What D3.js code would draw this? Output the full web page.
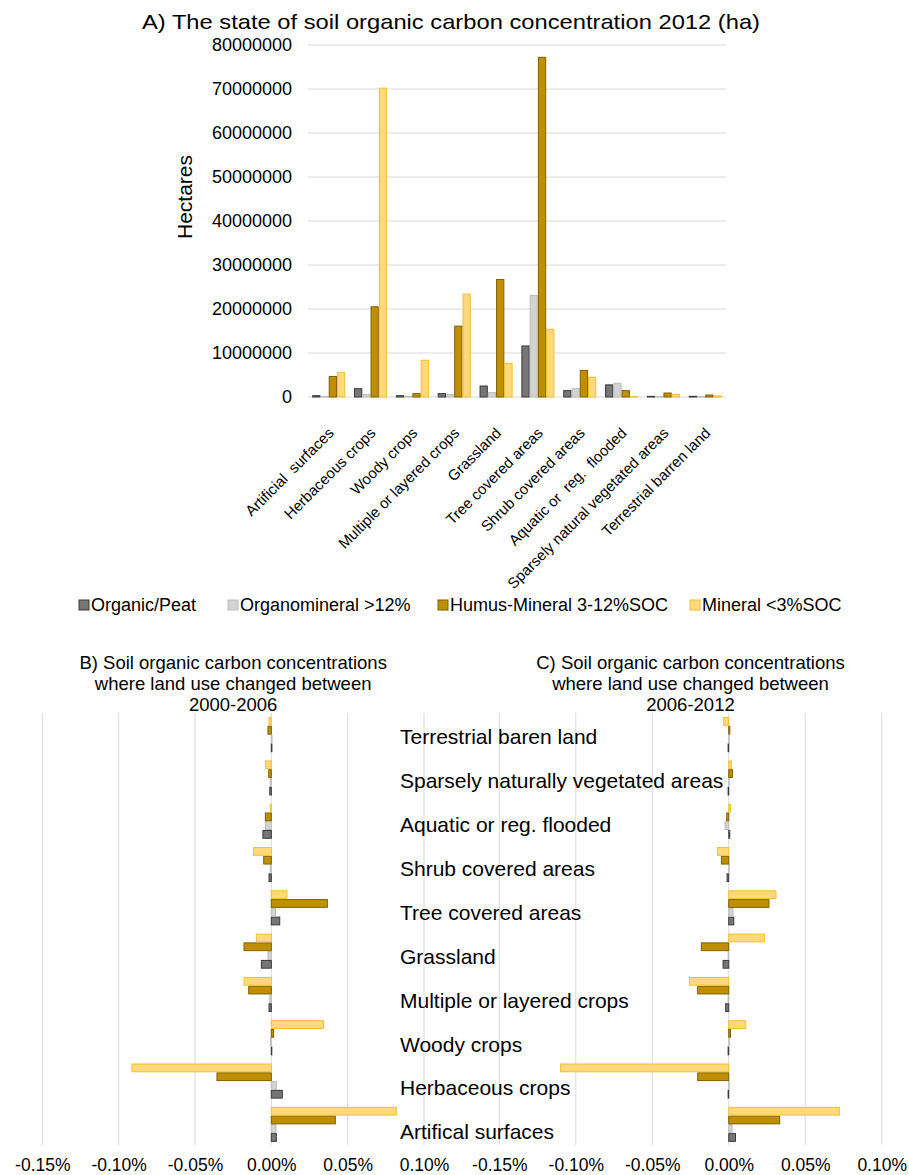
<!DOCTYPE html>
<html>
<head>
<meta charset="utf-8">
<script src="https://cdn.jsdelivr.net/npm/d3@7"></script>
<style>
  html, body { margin: 0; padding: 0; background: #fff; }
  text { font-family: "Liberation Sans", Arial, sans-serif; fill: #000; }
</style>
</head>
<body>
<svg id="chart" width="909" height="1175"></svg>
<script>
// ---------------- DATA ----------------
const seriesNames = ["Organic/Peat", "Organomineral >12%", "Humus-Mineral 3-12%SOC", "Mineral <3%SOC"];

// Chart A: hectares, 2012
const topCategories = ["Artificial  surfaces", "Herbaceous crops", "Woody crops", "Multiple or layered crops",
  "Grassland", "Tree covered areas", "Shrub covered areas", "Aquatic or  reg.  flooded",
  "Sparsely natural vegetated areas", "Terrestrial barren land"];
const topOrganic       = [300000, 1900000, 300000, 770000, 2500000, 11600000, 1450000, 2760000, 150000, 150000];
const topOrganomineral = [100000, 600000, 150000, 550000, 1000000, 23100000, 1900000, 3140000, 100000, 100000];
const topHumus         = [4670000, 20500000, 770000, 16100000, 26700000, 77200000, 6050000, 1450000, 900000, 450000];
const topMineral       = [5600000, 70200000, 8350000, 23400000, 7660000, 15400000, 4500000, 100000, 600000, 250000];
const topTicks = [0, 10000000, 20000000, 30000000, 40000000, 50000000, 60000000, 70000000, 80000000];

// Charts B and C: % change, categories listed top to bottom
const bottomCategories = ["Terrestrial baren land", "Sparsely naturally vegetated areas", "Aquatic or reg. flooded",
  "Shrub covered areas", "Tree covered areas", "Grassland", "Multiple or layered crops", "Woody crops",
  "Herbaceous crops", "Artifical surfaces"];
const bOrganic       = [0.0004, -0.0010, -0.0055, -0.0015, 0.0055, -0.0065, -0.0015, 0.0003, 0.0072, 0.0033];
const bOrganomineral = [0.0005, -0.0007, -0.0039, -0.0007, 0.0028, -0.0022, -0.0010, -0.0006, 0.0033, 0.0030];
const bHumus         = [-0.0022, -0.0017, -0.0039, -0.0050, 0.0367, -0.0179, -0.0148, 0.0015, -0.0356, 0.0419];
const bMineral       = [-0.0015, -0.0039, -0.0007, -0.0116, 0.0103, -0.0098, -0.0179, 0.0343, -0.0913, 0.0819];

const cOrganic       = [-0.0004, -0.0004, 0.0007, -0.0011, 0.0033, -0.0037, -0.0020, -0.0004, -0.0004, 0.0044];
const cOrganomineral = [0.0002, 0.0002, -0.0024, 0.0002, 0.0028, -0.0004, -0.0004, 0.0001, 0.0001, 0.0022];
const cHumus         = [0.0007, 0.0024, -0.0013, -0.0048, 0.0263, -0.0179, -0.0203, 0.0011, -0.0203, 0.0333];
const cMineral       = [-0.0033, 0.0017, 0.0011, -0.0074, 0.0309, 0.0233, -0.0257, 0.0111, -0.1100, 0.0723];
const pctTicks = [-0.15, -0.10, -0.05, 0.00, 0.05, 0.10];

// ---------------- STYLE ----------------
const fills   = ["#767676", "#d3d3d3", "#bf8f00", "#ffd97a"];
const strokes = ["#3a3a3a", "#bdbdbd", "#7f6000", "#f2c12e"];
const gridColor = "#d9d9d9";

const svg = d3.select("#chart");

// ---------------- CHART A ----------------
const A = { left: 308, right: 726, top: 45, bottom: 397 };
const xA = d3.scaleBand().domain(topCategories).range([A.left, A.right]).paddingInner(0.21).paddingOuter(0.1);
const xAs = d3.scaleBand().domain(seriesNames).range([0, xA.bandwidth()]);
const yA = d3.scaleLinear().domain([0, 80000000]).range([A.bottom, A.top]);
const topSeries = [topOrganic, topOrganomineral, topHumus, topMineral];

svg.append("text")
  .attr("x", 451).attr("y", 29)
  .attr("text-anchor", "middle")
  .attr("font-size", 21)
  .attr("textLength", 618).attr("lengthAdjust", "spacingAndGlyphs")
  .text("A) The state of soil organic carbon concentration 2012 (ha)");

const gA = svg.append("g");
gA.selectAll("line.grid").data(topTicks).join("line")
  .attr("x1", A.left).attr("x2", A.right)
  .attr("y1", d => yA(d)).attr("y2", d => yA(d))
  .attr("stroke", gridColor).attr("stroke-width", 1);

const yAxisA = d3.axisLeft(yA).tickValues(topTicks).tickSize(0).tickPadding(0).tickFormat(d3.format("d"));
svg.append("g").attr("transform", `translate(${A.left - 16},0)`).call(yAxisA)
  .call(g => g.select(".domain").remove())
  .call(g => g.selectAll("text").attr("font-size", 18).attr("font-family", "Liberation Sans").attr("fill", "#000"));

svg.append("text")
  .attr("transform", "translate(192,197) rotate(-90)")
  .attr("text-anchor", "middle")
  .attr("font-size", 21)
  .text("Hectares");

topCategories.forEach((cat, i) => {
  const g = gA.append("g").attr("transform", `translate(${xA(cat)},0)`);
  g.selectAll("rect").data(topSeries.map((s, k) => ({ k, v: s[i] }))).join("rect")
    .attr("x", d => xAs(seriesNames[d.k]) + 0.5)
    .attr("width", xAs.bandwidth() - 1)
    .attr("y", d => yA(d.v))
    .attr("height", d => Math.max(0.5, yA(0) - yA(d.v)))
    .attr("fill", d => fills[d.k])
    .attr("stroke", d => strokes[d.k]).attr("stroke-width", 1);
});

gA.selectAll("text.xlab").data(topCategories).join("text")
  .attr("class", "xlab")
  .attr("transform", d => `translate(${xA(d) + xA.bandwidth() / 2 + 6},${A.bottom + 37}) rotate(-45)`)
  .attr("text-anchor", "end")
  .attr("font-size", 15)
  .style("white-space", "pre")
  .text(d => d);

// Legend
const legendX = [79, 228, 438, 690];
const lg = svg.append("g").attr("transform", "translate(0,605)");
seriesNames.forEach((name, k) => {
  lg.append("rect").attr("x", legendX[k]).attr("y", -5).attr("width", 10).attr("height", 10)
    .attr("fill", fills[k]).attr("stroke", strokes[k]).attr("stroke-width", 1);
  lg.append("text").attr("x", legendX[k] + 12).attr("y", 0).attr("dy", "0.35em")
    .attr("font-size", 18).text(name);
});

// ---------------- CHARTS B & C ----------------
const yB = d3.scaleBand().domain(bottomCategories).range([713, 1146]).paddingInner(0.19).paddingOuter(0.095);
const yBs = d3.scaleBand().domain([3, 2, 1, 0]).range([0, yB.bandwidth()]);
const yLabel = d3.scalePoint().domain(bottomCategories).range([737, 1132]);

function drawPanel(x0, x1, series, titleLines) {
  const x = d3.scaleLinear().domain([-0.15, 0.10]).range([x0, x1]);
  const g = svg.append("g");
  g.selectAll("line.grid").data(pctTicks).join("line")
    .attr("x1", d => x(d)).attr("x2", d => x(d))
    .attr("y1", 713).attr("y2", 1145)
    .attr("stroke", gridColor).attr("stroke-width", 1);

  const axis = d3.axisBottom(x).tickValues(pctTicks).tickSize(0).tickPadding(0)
    .tickFormat(d => d.toFixed(2) + "%");
  svg.append("g").attr("transform", "translate(0,1158.5)").call(axis)
    .call(a => a.select(".domain").remove())
    .call(a => a.selectAll("text").attr("font-size", 17.5).attr("font-family", "Liberation Sans").attr("fill", "#000"));

  bottomCategories.forEach((cat, i) => {
    const gg = g.append("g").attr("transform", `translate(0,${yB(cat)})`);
    gg.selectAll("rect").data(series.map((s, k) => ({ k, v: s[i] }))).join("rect")
      .attr("y", d => yBs(d.k) + 0.5)
      .attr("height", yBs.bandwidth() - 1)
      .attr("x", d => Math.min(x(0), x(d.v)))
      .attr("width", d => Math.max(0.5, Math.abs(x(d.v) - x(0))))
      .attr("fill", d => fills[d.k])
      .attr("stroke", d => strokes[d.k]).attr("stroke-width", 1);
  });

  const cx = (x0 + x1) / 2;
  const t = svg.append("text").attr("text-anchor", "middle").attr("font-size", 18.5);
  titleLines.forEach((line, j) => {
    t.append("tspan").attr("x", cx).attr("y", 669 + j * 21).text(line);
  });
}

drawPanel(42.3, 424, [bOrganic, bOrganomineral, bHumus, bMineral],
  ["B) Soil organic carbon concentrations", "where land use changed between", "2000-2006"]);
drawPanel(499.3, 881.7, [cOrganic, cOrganomineral, cHumus, cMineral],
  ["C) Soil organic carbon concentrations", "where land use changed between", "2006-2012"]);

svg.append("g").selectAll("text").data(bottomCategories).join("text")
  .attr("x", 400)
  .attr("y", d => yLabel(d))
  .attr("dy", "0.35em")
  .attr("font-size", 21)
  .text(d => d);
</script>
</body>
</html>
